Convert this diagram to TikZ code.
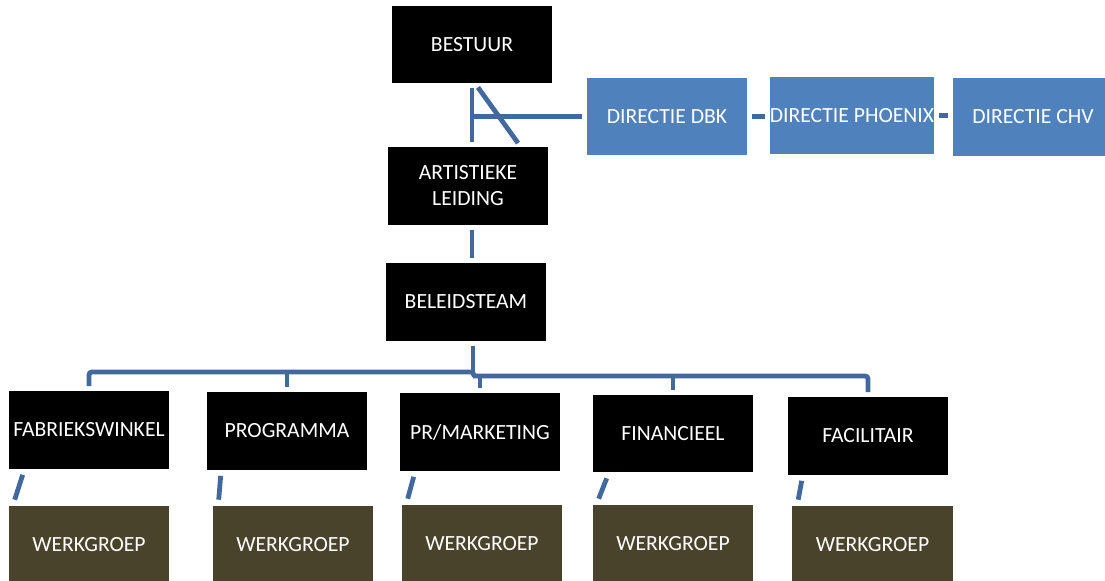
\documentclass[tikz,border=0pt]{standalone}
\usepackage{fontspec}
\setmainfont{Carlito}
\usetikzlibrary{calc}

\definecolor{lijnblauw}{RGB}{65,105,157}
\definecolor{directieblauw}{RGB}{79,129,189}
\definecolor{werkbruin}{RGB}{74,67,44}

\begin{document}
\begin{tikzpicture}[x=0.025cm, y=-0.025cm,
  blok/.style={fill=black, text=white, minimum width=4cm, minimum height=1.925cm,
    inner sep=0pt, align=center, font=\fontsize{15.4}{18.5}\selectfont},
  directie/.style={blok, fill=directieblauw},
  werkgroep/.style={blok, fill=werkbruin},
  lijn/.style={draw=lijnblauw, line width=3.4pt, shorten <=3.6pt, shorten >=3.6pt}]
\useasboundingbox (0,0) rectangle (1105,580);
\begin{scope}
\clip (0,0) rectangle (1105,580);
% top
\node[blok] (bestuur) at (472,44.5) {BESTUUR};
\node[blok] (leiding) at (468,186) {ARTISTIEKE\\LEIDING};
\node[blok] (beleid) at (466,302) {BELEIDSTEAM};
\node[directie] (dbk) at (667,116.5) {DIRECTIE DBK};
\node[directie] (phoenix) at (852,115.5) {DIRECTIE PHOENIX};
\node[directie] (chv) at (1033,117) {DIRECTIE CHV};
% afdelingen
\node[blok] (fabriek) at (89,430) {FABRIEKSWINKEL};
\node[blok] (programma) at (287,431) {PROGRAMMA};
\node[blok] (pr) at (480,432) {PR/MARKETING};
\node[blok] (financieel) at (673,433.5) {FINANCIEEL};
\node[blok] (facilitair) at (868,436) {FACILITAIR};
% werkgroepen
\node[werkgroep] (wg1) at (89,544.5) {WERKGROEP};
\node[werkgroep] (wg2) at (293,544.5) {WERKGROEP};
\node[werkgroep] (wg3) at (482,543.5) {WERKGROEP};
\node[werkgroep] (wg4) at (673,543.5) {WERKGROEP};
\node[werkgroep] (wg5) at (872.5,544.5) {WERKGROEP};

% lijnen boven
\draw[lijn] (bestuur.south) -- (bestuur.south |- leiding.north);
\draw[lijn] ($(bestuur.south)+(3,0)$) -- ($(leiding.north)+(53,0)$);
\coordinate (kruis) at (bestuur.south |- dbk.west);
\draw[lijn, shorten <=0pt] (kruis) -- (dbk.west);
\draw[lijn] (dbk.east) -- (dbk.east -| phoenix.west);
\draw[lijn] (phoenix.east) -- (phoenix.east -| chv.west);
\draw[lijn] (leiding.south -| bestuur.south) -- (beleid.north -| bestuur.south);

% lijnen naar afdelingen
\coordinate (tak) at (473,372);
\coordinate (bus) at (476,376);
\draw[lijn, shorten >=0pt] (beleid.south -| tak) -- (tak);
\draw[lijn, shorten <=0pt, rounded corners=2pt] (tak) -| (fabriek.north);
\draw[lijn, shorten <=0pt] (programma.north |- tak) -- (programma.north);
\draw[lijn, shorten <=0pt, rounded corners=2pt] (tak) |- (bus) -| (facilitair.north);
\draw[lijn, shorten <=0pt] (pr.north |- bus) -- (pr.north);
\draw[lijn, shorten <=0pt] (financieel.north |- bus) -- (financieel.north);

% werkgroepen
\foreach \a/\b in {fabriek/wg1, programma/wg2, pr/wg3, financieel/wg4, facilitair/wg5}
  \draw[lijn, shorten <=0pt, shorten >=0pt] ($(\a.south west)+(14,6)$) -- ($(\b.north west)+(6,-6)$);
\end{scope}
\end{tikzpicture}
\end{document}
